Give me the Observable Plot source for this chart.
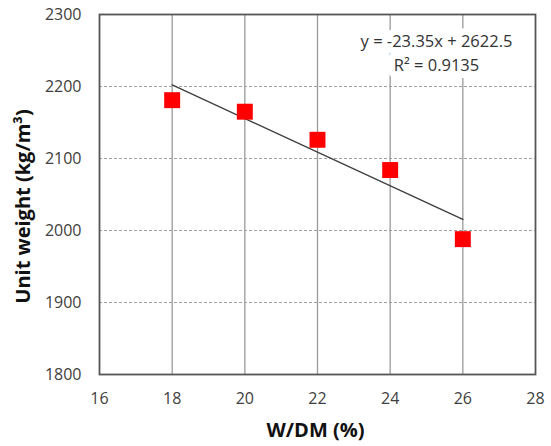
<!DOCTYPE html>
<html>
<head>
<meta charset="utf-8">
<script src="https://cdn.jsdelivr.net/npm/d3@7"></script>
<script src="https://cdn.jsdelivr.net/npm/@observablehq/plot@0.6"></script>
<style>
  html, body { margin: 0; padding: 0; background: #fff; }
</style>
</head>
<body>
<div id="chart"></div>
<script>
const xTicks = [16, 18, 20, 22, 24, 26, 28];
const yTicks = [1800, 1900, 2000, 2100, 2200, 2300];
const wdm = [18, 20, 22, 24, 26];
const unitWeight = [2181, 2165, 2126, 2084, 1988];
const equationLines = ["y = -23.35x + 2622.5", "R² = 0.9135"];
const xLabel = "W/DM (%)";
const yLabel = "Unit weight (kg/m³)";

const data = wdm.map((x, i) => ({x, y: unitWeight[i]}));
const font = "'Open Sans', 'Noto Sans', sans-serif";

const chart = Plot.plot({
  width: 551,
  height: 446,
  marginLeft: 99,
  marginRight: 16,
  marginTop: 14,
  marginBottom: 72,
  style: {fontFamily: font, color: "#404040", background: "#fff"},
  x: {domain: [16, 28]},
  y: {domain: [1800, 2300]},
  marks: [
    Plot.gridX(xTicks.slice(1, -1), {stroke: "#9a9a9a", strokeOpacity: 1, strokeWidth: 1.3}),
    Plot.gridY(yTicks.slice(1, -1), {stroke: "#a0a0a0", strokeOpacity: 1, strokeWidth: 1.2, strokeDasharray: "3,2"}),
    Plot.text([equationLines.join("\n")], {
      frameAnchor: "top-right", dx: -99, dy: 37, textAnchor: "middle", lineAnchor: "middle",
      lineHeight: 1.45, fontSize: 16.5, fill: "#333", stroke: "white", strokeWidth: 14, fontFamily: font
    }),
    Plot.linearRegressionY(data, {x: "x", y: "y", ci: 0, stroke: "#404040", strokeWidth: 1.5}),
    Plot.dot(data, {x: "x", y: "y", symbol: "square", r: 9, fill: "#ff0000", stroke: null}),
    Plot.frame({stroke: "#555", strokeWidth: 1.8}),
    Plot.axisX({ticks: xTicks, tickSize: 0, tickPadding: 18, fontSize: 16, tickFormat: d3.format("d"), label: null}),
    Plot.axisY({ticks: yTicks, tickSize: 0, tickPadding: 18, fontSize: 16, tickFormat: d3.format("d"), label: null}),
    Plot.text([xLabel], {frameAnchor: "bottom", dy: 56, dx: -2, lineAnchor: "middle", fontSize: 20, fontWeight: "bold", fill: "#111"}),
    Plot.text([yLabel], {frameAnchor: "left", dx: -76, dy: 12, rotate: -90, textAnchor: "middle", lineAnchor: "middle", fontSize: 20, fontWeight: "bold", fill: "#111"})
  ]
});
document.getElementById("chart").appendChild(chart);
</script>
</body>
</html>
